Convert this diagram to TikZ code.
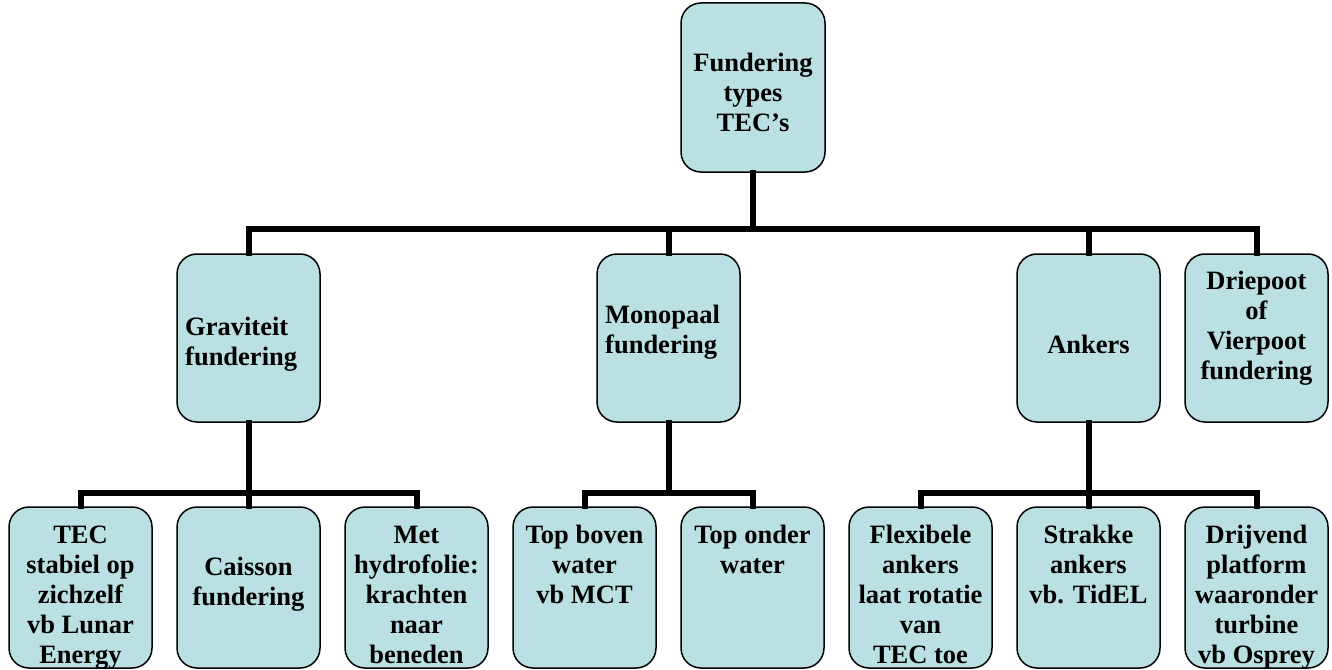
\documentclass[tikz,border=0pt]{standalone}
\usepackage{fontspec}
\setmainfont{Liberation Serif}
\definecolor{boxblue}{RGB}{186,224,227}
\begin{document}
\begin{tikzpicture}[x=1pt,y=-1pt,
  box/.style={draw=black,line width=1.5pt,fill=boxblue,rounded corners=20pt,
    minimum width=143pt,inner sep=0pt},
  lvtwo/.style={box,minimum height=168pt},
  lvthree/.style={box,minimum height=161pt},
  txt/.style={inner sep=0pt,align=center,anchor=base,
    font=\fontsize{26.5}{30}\selectfont\bfseries},
  ltxt/.style={txt,align=left,anchor=base west},
  conn/.style={line width=6pt,line join=miter,line cap=rect}]
\useasboundingbox (0,0) rectangle (1332,669);
\coordinate (busA) at (0,229);
\coordinate (busB) at (0,493);
% boxes
\node[box,minimum height=169pt,minimum width=144pt] (top) at (753,87.5) {};
\node[lvtwo] (grav) at (248.5,338) {};
\node[lvtwo] (mono) at (668.5,338) {};
\node[lvtwo] (ank)  at (1088.5,338) {};
\node[lvtwo] (drie) at (1256.5,338) {};
\node[lvthree] (tec)  at (80.5,587.5) {};
\node[lvthree] (cais) at (248.5,587.5) {};
\node[lvthree] (met)  at (416.5,587.5) {};
\node[lvthree] (tbw)  at (584.5,587.5) {};
\node[lvthree] (tow)  at (752.5,587.5) {};
\node[lvthree] (flex) at (920.5,587.5) {};
\node[lvthree] (strak) at (1088.5,587.5) {};
\node[lvthree] (drij) at (1256.5,587.5) {};
% connectors
\begin{scope}[conn]
\draw (top.south) -- (top.south |- busA);
\draw (grav.north) |- (drie.north |- busA) -- (drie.north);
\draw (mono.north) -- (mono.north |- busA);
\draw (ank.north) -- (ank.north |- busA);
\draw (grav.south) -- (grav.south |- busB);
\draw (tec.north) |- (met.north |- busB) -- (met.north);
\draw (cais.north) -- (cais.north |- busB);
\draw (mono.south) -- (mono.south |- busB);
\draw (tbw.north) |- (tow.north |- busB) -- (tow.north);
\draw (ank.south) -- (ank.south |- busB);
\draw (flex.north) |- (drij.north |- busB) -- (drij.north);
\draw (strak.north) -- (strak.north |- busB);
\end{scope}
% texts (anchored at the baseline of the last line)
\node[txt] (ttop) at (753,131) {Fundering\\types\\TEC’s};
\node[ltxt] (tgrav) at (185,365) {Graviteit\\fundering};
\node[ltxt] (tmono) at (605,353) {Monopaal\\fundering};
\node[txt] (tank) at (1088.5,353) {Ankers};
\node[txt] (tdrie) at (1256.5,379) {Driepoot\\of\\Vierpoot\\fundering};
\node[txt] (ttec) at (80.5,663) {TEC\\stabiel op\\zichzelf\\vb Lunar\\Energy};
\node[txt] (tcais) at (248.5,605) {Caisson\\fundering};
\node[txt] (tmet) at (416.5,663) {Met\\hydrofolie:\\krachten\\naar\\beneden};
\node[txt] (ttbw) at (584.5,603) {Top boven\\water\\vb MCT};
\node[txt] (ttow) at (752.5,573) {Top onder\\water};
\node[txt] (tflex) at (920.5,663) {Flexibele\\ankers\\laat rotatie\\van\\TEC toe};
\node[txt] (tstrak) at (1088.5,603) {Strakke\\ankers\\vb. TidEL};
\node[txt] (tdrij) at (1256.5,663) {Drijvend\\platform\\waaronder\\turbine\\vb Osprey};
\end{tikzpicture}
\end{document}
